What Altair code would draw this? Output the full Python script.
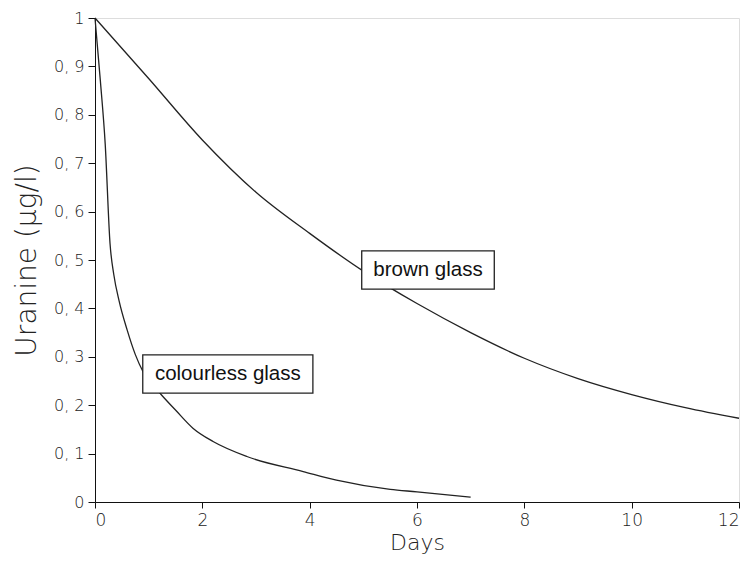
import altair as alt
import pandas as pd

brown_days = [0, 1, 2, 3, 4, 5, 6, 7, 8, 9, 10, 11, 12]
brown_vals = [1.0, 0.875, 0.748, 0.64, 0.555, 0.477, 0.41, 0.35, 0.297, 0.255, 0.222, 0.195, 0.173]

colourless_days = [0, 0.1, 0.19, 0.28, 0.35, 0.45, 0.6, 0.75, 0.9, 1.24, 1.5, 1.83, 2.2, 2.83, 3.88, 4.5, 5.5, 6.0, 7.0]
colourless_vals = [1.0, 0.87, 0.74, 0.534, 0.47, 0.415, 0.355, 0.305, 0.268, 0.221, 0.19, 0.152, 0.125, 0.094, 0.063, 0.045, 0.026, 0.021, 0.01]

label_text = ["brown glass", "colourless glass"]
label_x = [4.97, 0.89]
label_x2 = [7.44, 4.06]
label_y = [0.519, 0.304]
label_y2 = [0.44, 0.225]

df = pd.concat([
    pd.DataFrame({"day": brown_days, "val": brown_vals, "series": "brown"}),
    pd.DataFrame({"day": colourless_days, "val": colourless_vals, "series": "colourless"}),
])
boxes = pd.DataFrame({"text": label_text, "x": label_x, "x2": label_x2, "y": label_y, "y2": label_y2})
boxes["xc"] = (boxes["x"] + boxes["x2"]) / 2
boxes["yc"] = (boxes["y"] + boxes["y2"]) / 2

xs = alt.Scale(domain=[0, 12], nice=False, zero=False)
ys = alt.Scale(domain=[0, 1], nice=False)

x_axis = alt.Axis(values=[0, 2, 4, 6, 8, 10, 12], format="d", title="Days", grid=False,
                  labelFontSize=17, titleFontSize=22, tickSize=6,
                  labelFont="DejaVu Sans", titleFont="DejaVu Sans",
                  labelColor="#222", titleColor="#222", titleFontWeight=200, labelFontWeight=200,
                  domainColor="#111", tickColor="#111", labelPadding=4, titlePadding=4)
y_axis = alt.Axis(values=[0, 0.1, 0.2, 0.3, 0.4, 0.5, 0.6, 0.7, 0.8, 0.9, 1.0], title="Uranine (µg/l)", grid=False,
                  labelExpr="datum.value == 0 ? '0' : datum.value == 1 ? '1' : replace(format(datum.value, '.1f'), '.', ', ')",
                  labelFontSize=16, titleFontSize=28, tickSize=7,
                  labelFont="DejaVu Sans", titleFont="DejaVu Sans",
                  labelColor="#222", titleColor="#222", titleFontWeight=200, labelFontWeight=200,
                  domainColor="#111", tickColor="#111", labelPadding=4, titlePadding=12)

lines = alt.Chart(df).mark_line(color="#222", strokeWidth=1.3, interpolate="monotone").encode(
    x=alt.X("day:Q", scale=xs, axis=x_axis),
    y=alt.Y("val:Q", scale=ys, axis=y_axis),
    detail="series:N",
)

rects = alt.Chart(boxes).mark_rect(fill="white", stroke="#222", strokeWidth=1.3).encode(
    x="x:Q", x2="x2:Q", y="y:Q", y2="y2:Q",
)

texts = alt.Chart(boxes).mark_text(font="Liberation Sans", fontSize=20.5, color="#111").encode(
    x="xc:Q", y="yc:Q", text="text:N",
)

chart = alt.layer(lines, rects, texts).properties(
    width=644, height=484,
    autosize=alt.AutoSizeParams(type="none"),
    padding={"left": 87, "top": 10, "right": 5, "bottom": 58},
).configure_view(stroke="#111", strokeWidth=1.3).configure(background="white")

chart.save("out.html", embed_options={"renderer": "svg", "actions": False})
